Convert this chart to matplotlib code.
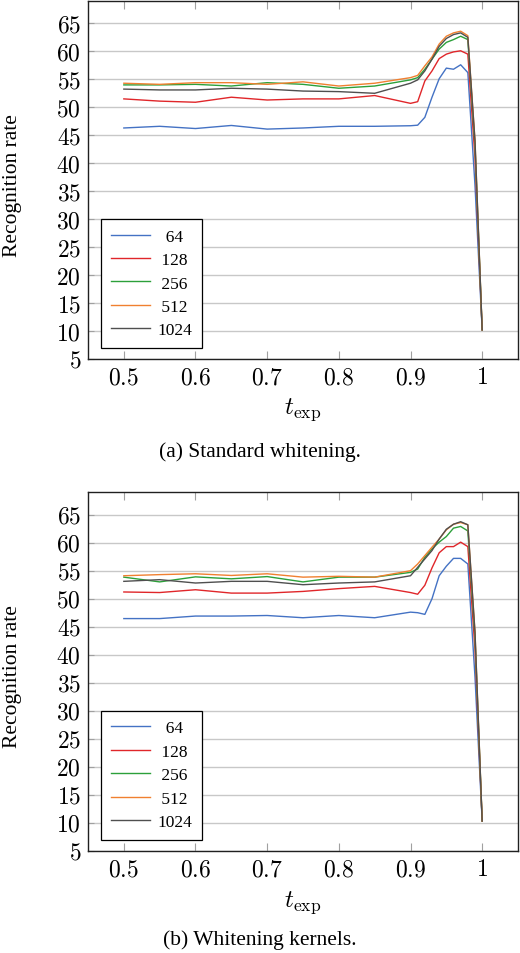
import matplotlib
matplotlib.use("Agg")
import matplotlib.pyplot as plt
from matplotlib.ticker import FuncFormatter

plt.rcParams['mathtext.fontset'] = 'cm'
plt.rcParams['font.family'] = ['Liberation Serif', 'DejaVu Serif']

# ---- data ----
t = [0.5, 0.55, 0.6, 0.65, 0.7, 0.75, 0.8, 0.85, 0.9, 0.91, 0.92, 0.93,
     0.94, 0.95, 0.96, 0.97, 0.98, 0.99, 1.0]
series_labels = ['64', '128', '256', '512', '1024']
legend_labels = ['  64', ' 128', ' 256', ' 512', '1024']

std_64 = [46.3, 46.6, 46.2, 46.75, 46.1, 46.3, 46.6, 46.6, 46.7, 46.8, 48.2,
          51.8, 55.1, 57.0, 56.8, 57.6, 56.2, 36.0, 10.2]
std_128 = [51.5, 51.1, 50.9, 51.8, 51.3, 51.5, 51.5, 52.1, 50.7, 51.0, 54.7,
           56.5, 58.7, 59.5, 59.9, 60.1, 59.5, 41.0, 10.2]
std_256 = [54.0, 54.0, 54.1, 53.8, 54.4, 54.1, 53.4, 53.8, 54.9, 55.3, 56.8,
           58.6, 60.4, 61.6, 62.1, 62.7, 62.1, 43.0, 10.2]
std_512 = [54.3, 54.1, 54.4, 54.4, 54.1, 54.55, 53.8, 54.3, 55.3, 55.7, 57.4,
           59.0, 61.3, 62.7, 63.3, 63.6, 62.8, 44.0, 10.2]
std_1024 = [53.25, 53.1, 53.1, 53.4, 53.25, 52.9, 52.8, 52.5, 54.3, 54.9, 56.5,
            58.6, 60.9, 62.3, 63.0, 63.3, 62.5, 44.0, 10.2]

ker_64 = [46.45, 46.45, 46.9, 46.9, 47.0, 46.6, 47.0, 46.6, 47.6, 47.5, 47.2,
          50.0, 54.1, 55.8, 57.2, 57.2, 56.2, 36.0, 10.3]
ker_128 = [51.2, 51.1, 51.6, 51.0, 51.0, 51.3, 51.8, 52.2, 51.1, 50.8, 52.4,
           55.5, 58.2, 59.3, 59.3, 60.1, 59.3, 41.0, 10.3]
ker_256 = [53.85, 53.0, 53.9, 53.55, 53.95, 53.0, 53.85, 53.85, 54.7, 55.3, 57.4,
           58.9, 60.1, 61.1, 62.6, 62.9, 62.1, 43.0, 10.3]
ker_512 = [54.1, 54.3, 54.45, 54.15, 54.45, 53.85, 54.0, 53.85, 55.0, 56.2, 57.7,
           59.2, 60.65, 62.3, 63.3, 63.6, 63.2, 44.0, 10.3]
ker_1024 = [53.1, 53.4, 52.8, 53.1, 53.1, 52.5, 52.8, 53.0, 54.1, 55.6, 57.1,
            58.6, 60.65, 62.4, 63.3, 63.75, 63.2, 44.0, 10.3]

x_ticks = [0.5, 0.6, 0.7, 0.8, 0.9, 1.0]
y_ticks = [5, 10, 15, 20, 25, 30, 35, 40, 45, 50, 55, 60, 65]
captions = ['(a) Standard whitening.', '(b) Whitening kernels.']

colors = ['#4472C4', '#E0262A', '#2CA03A', '#F08030', '#4F4F4F']

W, H = 520, 954
fig = plt.figure(figsize=(W / 100, H / 100), dpi=100)
ax1 = fig.add_axes([88 / W, 1 - 360 / H, 430 / W, 358 / H])
ax2 = fig.add_axes([88 / W, 1 - 851.7 / H, 430 / W, 358.4 / H])

def fmt(v, pos):
    return f'${v:g}$'

panels = [
    (ax1, [std_64, std_128, std_256, std_512, std_1024], captions[0], 452, 410, 186),
    (ax2, [ker_64, ker_128, ker_256, ker_512, ker_1024], captions[1], 940, 903, 677),
]
for ax, data, cap, cap_y, xl_y, yl_y in panels:
    for ys, lab, c in zip(data, legend_labels, colors):
        ax.plot(t, ys, color=c, lw=1.0, label=lab)
    ax.set_xlim(0.45, 1.05)
    ax.set_ylim(5, 69)
    ax.set_xticks(x_ticks)
    ax.set_yticks(y_ticks)
    ax.xaxis.set_major_formatter(FuncFormatter(fmt))
    ax.yaxis.set_major_formatter(FuncFormatter(fmt))
    ax.yaxis.grid(True, color='#c8c8c8', lw=1.0)
    ax.set_axisbelow(True)
    ax.tick_params(axis='x', direction='in', length=6, width=0.8,
                   color='#a0a0a0', top=True, labelsize=17, pad=6)
    ax.tick_params(axis='y', direction='in', length=4, width=0.8,
                   color='#a0a0a0', labelsize=17, pad=5)
    for sp in ax.spines.values():
        sp.set_color('#202020')
        sp.set_linewidth(1.0)
    leg = ax.legend(loc='lower left', bbox_to_anchor=(13 / 430, 11 / 358),
                    borderaxespad=0, fontsize=12.5, frameon=True, fancybox=False,
                    edgecolor='black', framealpha=1, handlelength=2.3,
                    handletextpad=0.4, labelspacing=0.42, borderpad=0.55)
    leg.get_frame().set_linewidth(0.9)
    fig.text(13 / W, 1 - yl_y / H, 'Recognition rate', fontsize=15.5,
             rotation=90, ha='center', va='center')
    fig.text(303 / W, 1 - xl_y / H, r'$t_{\mathrm{exp}}$', fontsize=18,
             ha='center', va='center')
    fig.text(260 / W, 1 - cap_y / H, cap, fontsize=15.5,
             ha='center', va='center')

fig.savefig('out.png', dpi=100)
